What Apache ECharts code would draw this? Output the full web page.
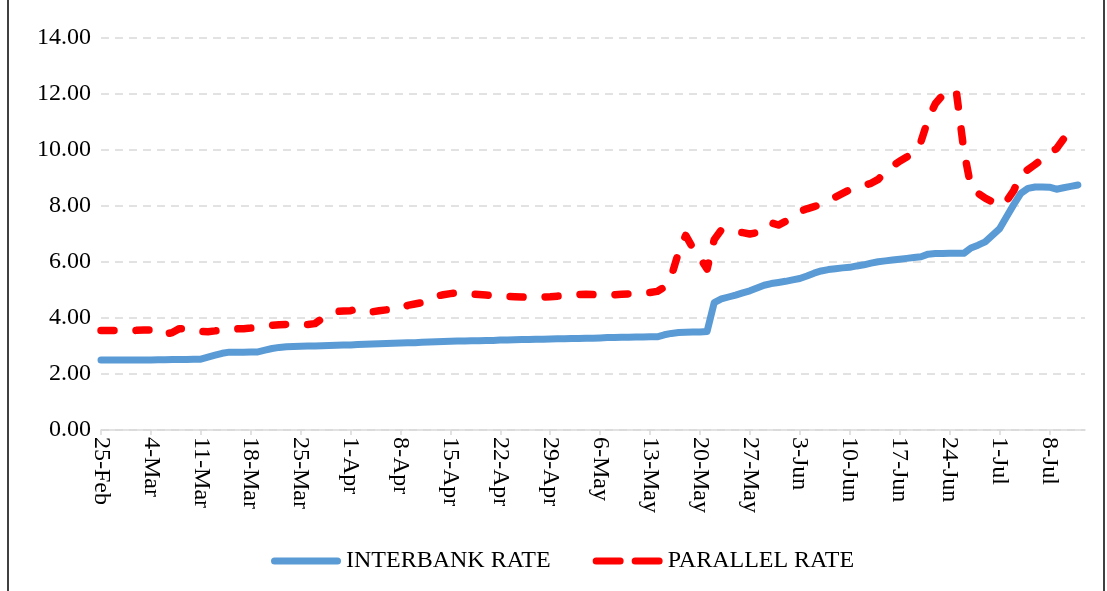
<!DOCTYPE html>
<html>
<head>
<meta charset="utf-8">
<title>Interbank vs parallel rate</title>
<script src="https://cdn.jsdelivr.net/npm/echarts@6/dist/echarts.min.js"></script>
<style>
  html, body { margin: 0; padding: 0; background: #fff; }
  #chart { width: 1107px; height: 591px; }
</style>
</head>
<body>
<div id="chart"></div>
<script>
// daily categories, 25-Feb .. 13-Jul
var monthNames = ['Feb', 'Mar', 'Apr', 'May', 'Jun', 'Jul'];
var monthDays = [28, 31, 30, 31, 30, 31];
var firstDay = 25;
var dayCount = 139;

var categories = [];
var m = 0, d = firstDay;
for (var i = 0; i < dayCount; i++) {
  categories.push(d + '-' + monthNames[m]);
  d++;
  if (d > monthDays[m]) { d = 1; m++; }
}

// y axis ticks
var yMin = 0;
var yMax = 14;
var yStep = 2;

var interbankRate = [
  2.50, 2.50, 2.50, 2.50, 2.50, 2.50, 2.50, 2.50, 2.51, 2.51, 2.52, 2.52, 2.52, 2.53, 2.53,
  2.60, 2.67, 2.74, 2.78, 2.78, 2.78, 2.79, 2.79,
  2.85, 2.91, 2.95, 2.97,
  2.98, 2.99, 3.00, 3.00, 3.01, 3.02, 3.03, 3.04,
  3.04,
  3.05, 3.06, 3.07, 3.08, 3.09, 3.10, 3.11, 3.12, 3.12, 3.13, 3.14, 3.15, 3.16, 3.17,
  3.18, 3.18, 3.19, 3.19, 3.20, 3.20, 3.21, 3.21, 3.22, 3.23, 3.23, 3.24, 3.24, 3.25,
  3.26, 3.26, 3.27, 3.27, 3.28, 3.28, 3.29, 3.30, 3.30, 3.31, 3.31, 3.32, 3.32, 3.33, 3.33,
  3.40, 3.45, 3.48, 3.49, 3.50, 3.50, 3.52,
  4.55, 4.68, 4.75, 4.82, 4.90, 4.97, 5.07, 5.17, 5.23, 5.27,
  5.31, 5.36, 5.41, 5.50, 5.60, 5.68, 5.73, 5.76, 5.79, 5.81,
  5.86, 5.90, 5.96, 6.01, 6.04, 6.07, 6.10, 6.13, 6.16, 6.19,
  6.28, 6.30, 6.30, 6.31, 6.31, 6.31, 6.50, 6.60, 6.72, 6.95,
  7.18, 7.62, 8.05, 8.45, 8.63, 8.68, 8.68, 8.67, 8.60, 8.65,
  8.70, 8.75
];

var parallelRate = [
  3.55, 3.55, 3.55, 3.54, 3.54, 3.56, 3.57, 3.57,
  3.40, 3.42, 3.48, 3.62, 3.62, 3.55, 3.52, 3.51,
  3.54, 3.58, 3.60, 3.61, 3.62, 3.64, 3.67, 3.71,
  3.74, 3.76, 3.77, 3.77, 3.77, 3.77, 3.80, 3.98,
  4.15, 4.23, 4.25, 4.26, 4.34, 4.26, 4.22, 4.26,
  4.29, 4.30, 4.31, 4.45, 4.50, 4.55, 4.68, 4.78,
  4.83, 4.87, 4.90, 4.88, 4.86, 4.84, 4.82, 4.80,
  4.78, 4.77, 4.76, 4.75, 4.74, 4.74, 4.75, 4.76,
  4.78, 4.80, 4.82, 4.84, 4.85, 4.84, 4.82, 4.82,
  4.83, 4.85, 4.86, 4.87, 4.88, 4.91, 4.95, 5.10,
  5.50, 6.35, 6.95, 6.50, 6.15, 5.75, 6.80, 7.15,
  7.10, 7.08, 7.05, 7.00, 7.05, 7.30, 7.40, 7.32,
  7.45, 7.65, 7.80, 7.90, 7.98, 8.06, 8.18, 8.32,
  8.45, 8.58, 8.68, 8.74, 8.81, 8.95, 9.22, 9.42,
  9.60, 9.75, 9.88, 10.30, 11.10, 11.65, 11.95, 12.20,
  12.00, 10.00, 8.68, 8.45, 8.28, 8.15, 8.00, 8.18,
  8.55, 9.12, 9.30, 9.48, 9.68, 9.88, 10.05, 10.40,
  10.58, 10.52
];

var serif = 'Liberation Serif, Times New Roman, serif';

// legend keys: a solid rounded bar and two rounded dashes
var solidKey = 'path://M3.5,0 H66.5 A3.5,3.5 0 0 1 66.5,7 H3.5 A3.5,3.5 0 0 1 3.5,0 Z';
var dashKey = 'path://M3.5,0 H27.5 A3.5,3.5 0 0 1 27.5,7 H3.5 A3.5,3.5 0 0 1 3.5,0 Z ' +
  'M42.5,0 H66.5 A3.5,3.5 0 0 1 66.5,7 H42.5 A3.5,3.5 0 0 1 42.5,0 Z';

var chart = echarts.init(document.getElementById('chart'));
chart.setOption({
  animation: false,
  backgroundColor: '#fff',
  textStyle: { fontFamily: serif },
  grid: { left: 101, right: 22, top: 38, bottom: 161 },
  legend: {
    left: 266,
    top: 544,
    itemWidth: 70,
    itemHeight: 7,
    itemGap: 42,
    symbolKeepAspect: false,
    textStyle: { fontFamily: serif, fontSize: 24, color: '#000' },
    data: [
      { name: 'INTERBANK RATE', icon: solidKey },
      { name: 'PARALLEL RATE', icon: dashKey }
    ]
  },
  xAxis: {
    type: 'category',
    boundaryGap: false,
    data: categories,
    axisLine: { lineStyle: { color: '#d9d9d9', width: 1.5 } },
    axisTick: { interval: 6, length: 5, lineStyle: { color: '#d9d9d9', width: 1.5 } },
    axisLabel: {
      interval: 6,
      rotate: -90,
      margin: 7,
      fontFamily: serif,
      fontSize: 24,
      color: '#000'
    }
  },
  yAxis: {
    type: 'value',
    min: yMin,
    max: yMax,
    interval: yStep,
    axisLine: { show: false },
    axisTick: { show: false },
    axisLabel: {
      margin: 10,
      fontFamily: serif,
      fontSize: 24,
      color: '#000',
      formatter: function (v) { return v.toFixed(2); }
    },
    splitLine: { lineStyle: { color: '#d9d9d9', width: 1.5, type: [8, 6] } }
  },
  graphic: [
    { type: 'line', shape: { x1: 8, y1: 0, x2: 8, y2: 591 }, style: { stroke: '#000', lineWidth: 1.5 } },
    { type: 'line', shape: { x1: 1104, y1: 0, x2: 1104, y2: 591 }, style: { stroke: '#000', lineWidth: 1.5 } }
  ],
  series: [
    {
      name: 'INTERBANK RATE',
      type: 'line',
      data: interbankRate,
      symbol: 'none',
      color: '#5B9BD5',
      lineStyle: { color: '#5B9BD5', width: 7, cap: 'round', join: 'round' }
    },
    {
      name: 'PARALLEL RATE',
      type: 'line',
      data: parallelRate,
      symbol: 'none',
      color: '#FF0000',
      lineStyle: { color: '#FF0000', width: 7.5, type: [13, 22], cap: 'round', join: 'round' }
    }
  ]
});
</script>
</body>
</html>
